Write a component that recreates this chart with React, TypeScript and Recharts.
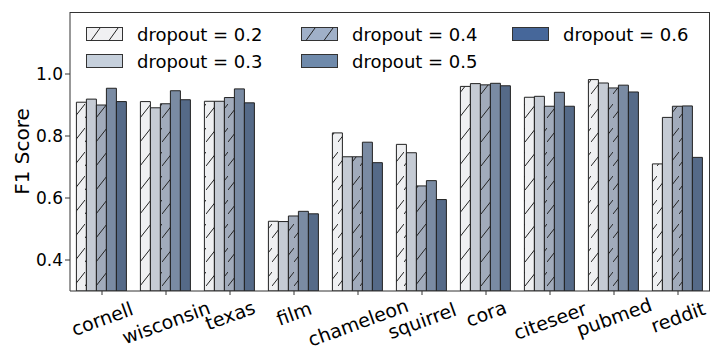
import React from 'react';
import { BarChart, Bar, XAxis, YAxis } from 'recharts';

const categories = ['cornell', 'wisconsin', 'texas', 'film', 'chameleon', 'squirrel', 'cora', 'citeseer', 'pubmed', 'reddit'];
const dropout02 = [0.909, 0.911, 0.912, 0.525, 0.81, 0.773, 0.96, 0.925, 0.982, 0.71];
const dropout03 = [0.919, 0.891, 0.912, 0.524, 0.733, 0.746, 0.969, 0.928, 0.971, 0.86];
const dropout04 = [0.9, 0.904, 0.924, 0.542, 0.733, 0.639, 0.965, 0.896, 0.955, 0.896];
const dropout05 = [0.954, 0.946, 0.952, 0.557, 0.78, 0.656, 0.97, 0.941, 0.964, 0.897];
const dropout06 = [0.911, 0.917, 0.907, 0.549, 0.714, 0.595, 0.962, 0.896, 0.942, 0.731];
const yTicks = [0.4, 0.6, 0.8, 1.0];

const series = [
  { key: 'd02', name: 'dropout = 0.2', values: dropout02, bar: '#eff0f2', legend: '#f0f0f2', hatch: true },
  { key: 'd03', name: 'dropout = 0.3', values: dropout03, bar: '#c5cbd4', legend: '#c6d0dc', hatch: false },
  { key: 'd04', name: 'dropout = 0.4', values: dropout04, bar: '#a1abbb', legend: '#a0b0c8', hatch: true },
  { key: 'd05', name: 'dropout = 0.5', values: dropout05, bar: '#7a8ba3', legend: '#6f8aab', hatch: false },
  { key: 'd06', name: 'dropout = 0.6', values: dropout06, bar: '#556a88', legend: '#46679a', hatch: false },
];

const data = categories.map((c, i) => {
  const row: any = { name: c };
  series.forEach((s) => { row[s.key] = s.values[i]; });
  return row;
});

const FONT = 'DejaVu Sans, sans-serif';

const XTick = (props: any) => {
  const { x, y, payload } = props;
  const fs = 19;
  const w = String(payload.value).length * fs * 0.56;
  const a = (20 * Math.PI) / 180;
  const bh = w * Math.sin(a) + fs * Math.cos(a);
  const cy = y + bh / 2;
  return (
    <text x={x} y={cy} transform={`rotate(-20, ${x}, ${cy})`} textAnchor="middle" dominantBaseline="central"
      fontSize={fs} fill="#000" fontFamily={FONT}>
      {payload.value}
    </text>
  );
};

// legend drawn over the plot, three columns filled column-first
const ChartLegend = () => {
  const cols = [78, 293, 504];
  const rows = [26, 53];
  return (
    <div style={{ position: 'absolute', left: 0, top: 0, width: 700, height: 70, pointerEvents: 'none' }}>
      {series.map((s, i) => {
        const col = Math.floor(i / 2);
        const row = i % 2;
        return (
          <div key={s.key} style={{ position: 'absolute', left: cols[col], top: rows[row] - 11, height: 22, display: 'flex', alignItems: 'center', whiteSpace: 'nowrap' }}>
            <svg width={37} height={14} style={{ display: 'block' }}>
              <rect x={0.5} y={0.5} width={36} height={13} fill={s.legend} stroke="#333" strokeWidth={1} />
              {s.hatch && <path d="M5,13.5 L14,1 M23,13.5 L32,1" stroke="#222" strokeWidth={1} />}
            </svg>
            <span style={{ marginLeft: 14, fontSize: 18, fontFamily: FONT, color: '#000' }}>{s.name}</span>
          </div>
        );
      })}
    </div>
  );
};

export default function App() {
  return (
    <div style={{ position: 'relative', width: 712, height: 352, fontFamily: FONT }}>
      <BarChart width={712} height={352} data={data} margin={{ top: 4, right: 10, left: 0, bottom: 0 }}
        barCategoryGap="10%" barGap={0}>
        <defs>
          <pattern id="hatch02" patternUnits="userSpaceOnUse" width={11} height={24}>
            <rect width={11} height={24} fill="#eff0f2" />
            <path d="M0,14 L11,0" stroke="#222" strokeWidth={1} />
          </pattern>
          <pattern id="hatch04" patternUnits="userSpaceOnUse" width={11} height={24}>
            <rect width={11} height={24} fill="#a1abbb" />
            <path d="M0,14 L11,0" stroke="#222" strokeWidth={1} />
          </pattern>
        </defs>
        <XAxis dataKey="name" height={69} tick={<XTick />} tickSize={4} interval={0}
          axisLine={{ stroke: '#333' }} tickLine={{ stroke: '#333' }} />
        <YAxis width={62} domain={[0.3, 1.2]} ticks={yTicks} allowDataOverflow tickSize={5}
          tickFormatter={(v: number) => v.toFixed(1)}
          tick={{ fontSize: 17, fill: '#000', fontFamily: FONT }}
          axisLine={{ stroke: '#333' }} tickLine={{ stroke: '#333' }}
          label={{ value: 'F1 Score', angle: -90, position: 'insideLeft', offset: 14, fontSize: 20, fill: '#000', fontFamily: FONT, style: { textAnchor: 'middle' } }} />
        {series.map((s) => (
          <Bar key={s.key} dataKey={s.key} name={s.name} isAnimationActive={false}
            fill={s.key === 'd02' ? 'url(#hatch02)' : s.key === 'd04' ? 'url(#hatch04)' : s.bar}
            stroke="#222" strokeWidth={1} />
        ))}
      </BarChart>
      {/* axes frame (top and right spines) */}
      <div style={{ position: 'absolute', left: 62, top: 4, width: 640, height: 279, borderTop: '1px solid #333', borderRight: '1px solid #333', boxSizing: 'border-box', pointerEvents: 'none' }} />
      <ChartLegend />
    </div>
  );
}
